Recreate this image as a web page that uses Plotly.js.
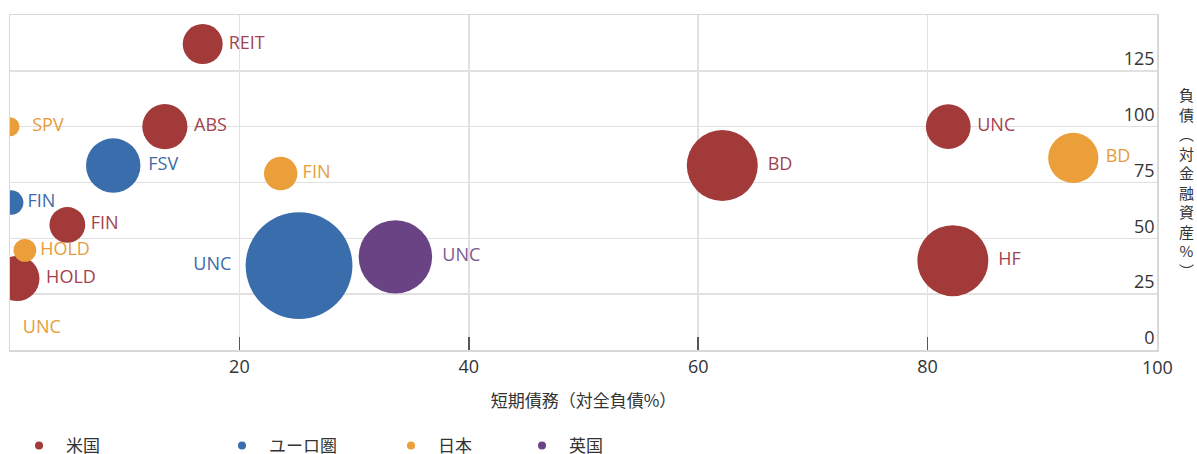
<!DOCTYPE html>
<html>
<head>
<meta charset="utf-8">
<script src="https://cdn.plot.ly/plotly-3.0.1.min.js"></script>
<style>
  html, body { margin: 0; padding: 0; background: #fff; }
  #chart { width: 1197px; height: 454px; }
</style>
</head>
<body>
<div id="chart"></div>
<script>
// Non-bank sectors: short-term debt share (x) vs. liabilities relative to financial assets (y)
// Bubble size: relative sector size (arbitrary units)

const regions = ['米国', 'ユーロ圏', '日本', '英国'];

const usSectors   = ['REIT', 'ABS', 'FIN', 'HOLD', 'BD', 'UNC', 'HF'];
const usShortTerm = [16.8, 13.5, 5.0, 0.6, 62.1, 81.8, 82.2];
const usLiab      = [137, 100, 56, 32, 82.6, 100, 40];
const usSize      = [40, 51, 32, 51, 126, 50, 126];

const euSectors   = ['FSV', 'FIN', 'UNC'];
const euShortTerm = [9.0, 0.1, 25.2];
const euLiab      = [82.6, 66, 37.8];
const euSize      = [74, 15, 285];

const jpSectors   = ['SPV', 'FIN', 'HOLD', 'BD', 'UNC'];
const jpShortTerm = [0, 23.6, 1.3, 92.7, 0.3];
const jpLiab      = [100, 79, 44.6, 86, 9.5];
const jpSize      = [9, 28, 13, 63, 0];

const ukSectors   = ['UNC'];
const ukShortTerm = [33.6];
const ukLiab      = [41.7];
const ukSize      = [135];

const xTickVals = [0, 20, 40, 60, 80, 100];
const xTickText = ['', '20', '40', '60', '80', '100'];
const yTickVals = [0, 25, 50, 75, 100, 125];

const palette = {
  us: { marker: '#a23a3a', text: '#a3424f' },
  eu: { marker: '#3a6dab', text: '#3d6aa8' },
  jp: { marker: '#eb9f3b', text: '#e69c3c' },
  uk: { marker: '#6a4384', text: '#7a5a92' }
};

const latin = '"Open Sans", "Noto Sans", sans-serif';
const cjk = '"Noto Sans CJK JP", "Noto Sans", sans-serif';
const SIZEREF = 0.05;
const tickFont = { family: latin, size: 18, color: '#333' };

// labels that sit next to very small (or hidden) bubbles get a little extra room
const padLabel = s => '\u00a0\u00a0' + s;

function bubbles(xs, ys, sizes, labels, col, positions) {
  return {
    type: 'scatter',
    mode: 'markers+text',
    x: xs, y: ys, text: labels,
    textposition: positions || 'middle right',
    textfont: { family: latin, size: 18, color: col.text },
    marker: { size: sizes, sizemode: 'area', sizeref: SIZEREF, color: col.marker, opacity: 1, line: { width: 0 } },
    showlegend: false,
    hoverinfo: 'skip'
  };
}

function legendKey(name, col, legendId) {
  return {
    type: 'scatter', mode: 'markers',
    x: [null], y: [null], name: name,
    marker: { size: 8, color: col.marker },
    legend: legendId, showlegend: true, hoverinfo: 'skip'
  };
}

const euPositions = euSectors.map(s => s === 'UNC' ? 'middle left' : 'middle right');
const jpLabels = jpSectors.map((s, i) => jpSize[i] < 10 ? padLabel(s) : s);

const data = [
  bubbles(usShortTerm, usLiab, usSize, usSectors, palette.us),
  bubbles(euShortTerm, euLiab, euSize, euSectors, palette.eu, euPositions),
  bubbles(jpShortTerm, jpLiab, jpSize, jpLabels, palette.jp),
  bubbles(ukShortTerm, ukLiab, ukSize, ukSectors, palette.uk),
  legendKey(regions[0], palette.us, 'legend'),
  legendKey(regions[1], palette.eu, 'legend2'),
  legendKey(regions[2], palette.jp, 'legend3'),
  legendKey(regions[3], palette.uk, 'legend4')
];

function legendAt(px) {
  return {
    x: px / 1197, xref: 'container', xanchor: 'left',
    y: 8 / 454, yref: 'container', yanchor: 'middle',
    orientation: 'h', itemwidth: 44,
    font: { family: cjk, size: 17, color: '#333' },
    bgcolor: 'rgba(0,0,0,0)', borderwidth: 0
  };
}

const yTitleChars = ['負', '債', '︵', '対', '金', '融', '資', '産', '%', '︶'];
const lastX = xTickVals[xTickVals.length - 1];

const layout = {
  width: 1197, height: 454,
  margin: { l: 10, r: 40, t: 15, b: 104 },
  paper_bgcolor: '#fff', plot_bgcolor: '#fff',
  showlegend: true,
  xaxis: {
    range: [0, 100],
    tickmode: 'array', tickvals: xTickVals, ticktext: xTickText,
    ticks: 'inside', ticklen: 13, tickwidth: 1.5, tickcolor: '#555',
    tickfont: tickFont,
    showgrid: true, gridcolor: '#e1e1e1', gridwidth: 1.5,
    zeroline: false,
    showline: true, mirror: true, linecolor: '#d8d8d8', linewidth: 1.5,
    title: { text: '短期債務（対全負債%）', font: { family: cjk, size: 17, color: '#333' }, standoff: 18 },
    fixedrange: true
  },
  yaxis: {
    range: [0, 150], side: 'right',
    tickmode: 'array', tickvals: yTickVals,
    ticklabelposition: 'inside', ticklabelshift: -12, ticklabelstandoff: 3,
    ticks: '',
    tickfont: tickFont,
    showgrid: true, gridcolor: '#e1e1e1', gridwidth: 1.5,
    zeroline: false,
    showline: true, mirror: true, linecolor: '#d8d8d8', linewidth: 1.5,
    fixedrange: true
  },
  annotations: [
    {
      // vertical axis title, one character per line
      text: yTitleChars.join('<br>'),
      xref: 'paper', yref: 'paper',
      x: 1.0255, y: 0.5, xanchor: 'center', yanchor: 'middle',
      showarrow: false,
      font: { family: cjk, size: 15, color: '#333' }
    },
    {
      // end label of the x axis, kept clear of the inside y labels
      text: String(lastX),
      xref: 'x', yref: 'paper',
      x: lastX, y: 0, xanchor: 'center', yanchor: 'middle', yshift: -17,
      showarrow: false,
      font: tickFont
    }
  ],
  legend: legendAt(12),
  legend2: legendAt(215),
  legend3: legendAt(384),
  legend4: legendAt(515)
};

Plotly.newPlot('chart', data, layout, { displayModeBar: false, staticPlot: true });
</script>
</body>
</html>
